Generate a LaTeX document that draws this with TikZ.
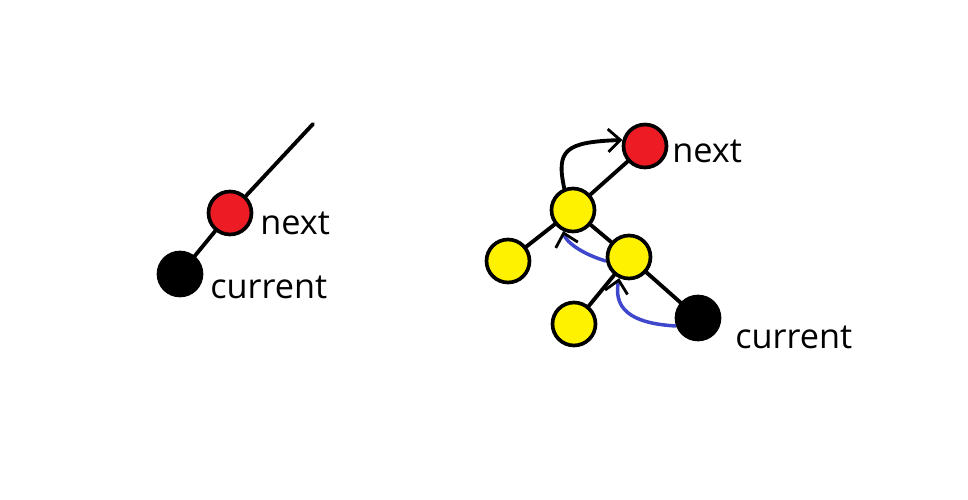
\documentclass[tikz,border=0pt]{standalone}
\usepackage{fontspec}
\setmainfont{Open Sans}
\usetikzlibrary{arrows.meta, positioning}
\definecolor{paintred}{RGB}{237,28,36}
\definecolor{paintyellow}{RGB}{255,242,0}
\definecolor{paintblue}{RGB}{63,72,204}

\tikzset{
  treenode/.style={circle,draw=black,line width=2.1pt,inner sep=0pt,minimum size=0.86cm},
  treeedge/.style={line width=2.2pt,line cap=round},
  label text/.style={anchor=base west,inner sep=0pt,font=\fontsize{19.5}{23}\selectfont},
  barb/.style={-{Straight Barb[length=7pt,width=13pt,line width=1.6pt,black]}}
}

\begin{document}
\begin{tikzpicture}[x=0.02cm,y=-0.02cm]
    \useasboundingbox (0,0) rectangle (968,500);

    % left: before the step
    \coordinate (top) at (313,124);
    \node[treenode,fill=paintred] (lnext) at (230,213) {};
    \node[treenode,fill=black] (lcur) at (180,274) {};
    \draw[treeedge] (lnext) -- (top);
    \draw[treeedge] (lcur) -- (lnext);
    \node[label text] (lnexttxt) at (260,235) {next};
    \node[label text] (lcurtxt) at (210,298) {current};

    % right: walking back up
    \node[treenode,fill=paintred] (rnext) at (645,146) {};
    \node[treenode,fill=paintyellow] (ya) at (573,210) {};
    \node[treenode,fill=paintyellow] (yb) at (508,261) {};
    \node[treenode,fill=paintyellow] (yc) at (629,257) {};
    \node[treenode,fill=paintyellow] (yd) at (574,324) {};
    \node[treenode,fill=black] (rcur) at (698,318) {};
    \draw[treeedge] (ya) -- (rnext);
    \draw[treeedge] (ya) -- (yb);
    \draw[treeedge] (ya) -- (yc);
    \draw[treeedge] (yc) -- (yd);
    \draw[treeedge] (yc) -- (rcur);
    \node[label text] (rnexttxt) at (672,163) {next};
    \node[label text] (rcurtxt) at (735,348) {current};

    % Arrows
    \draw[treeedge,barb] (ya.112) .. controls (556,150) and (565,142) .. (rnext.165);
    \draw[line width=2pt,paintblue,barb] (yc.190) .. controls (582,254) and (566,242) .. (ya.245);
    \draw[line width=2pt,paintblue,barb] (rcur.200) .. controls (640,324) and (612,314) .. (yc.245);
\end{tikzpicture}
\end{document}
